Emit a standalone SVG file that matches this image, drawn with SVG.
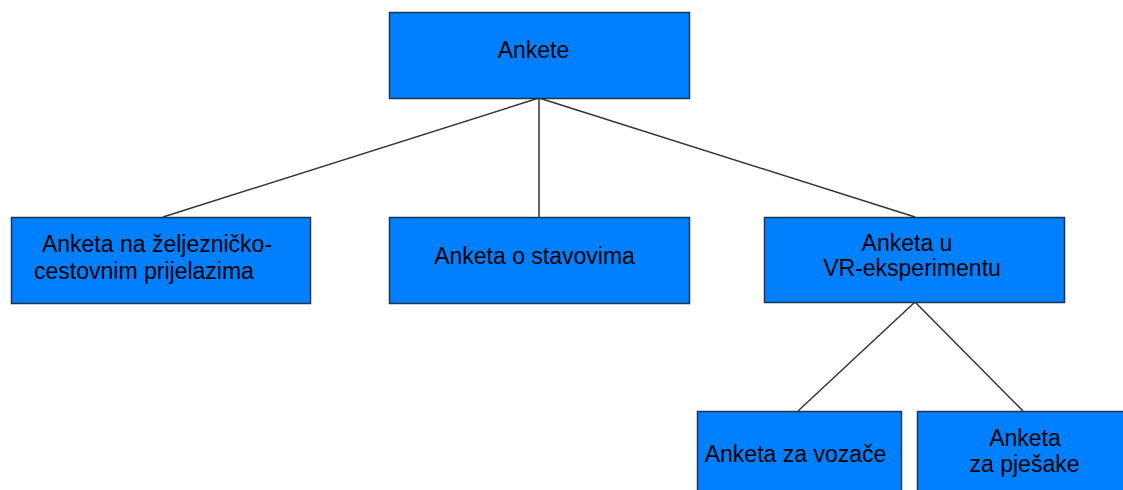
<svg xmlns="http://www.w3.org/2000/svg" width="1123" height="490" viewBox="0 0 1123 490">
<style>
.box{fill:#0080ff;stroke:#1c3550;stroke-width:1.5}
.lbl{font-family:"Liberation Sans",Arial,sans-serif;font-size:23px;fill:#000;text-anchor:middle}
.con{stroke:#333;stroke-width:1.5;fill:none}
</style>
<rect width="1123" height="490" fill="#fff"/>
<g id="connectors">
<line class="con" x1="539" y1="98" x2="163" y2="217"/>
<line class="con" x1="539" y1="98" x2="539" y2="217"/>
<line class="con" x1="539" y1="98" x2="915" y2="217"/>
<line class="con" x1="915" y1="302" x2="798" y2="411"/>
<line class="con" x1="915" y1="302" x2="1023" y2="411"/>
</g>
<g id="ankete">
<rect class="box" x="389.5" y="12.5" width="300" height="86"/>
<text class="lbl" x="533.5" y="57.5">Ankete</text>
</g>
<g id="anketa-prijelazi">
<rect class="box" x="11.5" y="217.5" width="299" height="86"/>
<text class="lbl" x="157" y="251.5">Anketa na željezničko-</text>
<text class="lbl" x="144" y="279">cestovnim prijelazima</text>
</g>
<g id="anketa-stavovi">
<rect class="box" x="389.5" y="217.5" width="300" height="86"/>
<text class="lbl" x="534.5" y="263.5">Anketa o stavovima</text>
</g>
<g id="anketa-vr">
<rect class="box" x="764.5" y="217.5" width="300" height="85"/>
<text class="lbl" x="907" y="250.5">Anketa u</text>
<text class="lbl" x="912" y="276">VR-eksperimentu</text>
</g>
<g id="anketa-vozaci">
<rect class="box" x="697.5" y="411.5" width="204" height="90"/>
<text class="lbl" x="795.5" y="461.5">Anketa za vozače</text>
</g>
<g id="anketa-pjesaci">
<rect class="box" x="917.5" y="411.5" width="210" height="90"/>
<text class="lbl" x="1025" y="446">Anketa</text>
<text class="lbl" x="1024.5" y="471.5">za pješake</text>
</g>
</svg>
